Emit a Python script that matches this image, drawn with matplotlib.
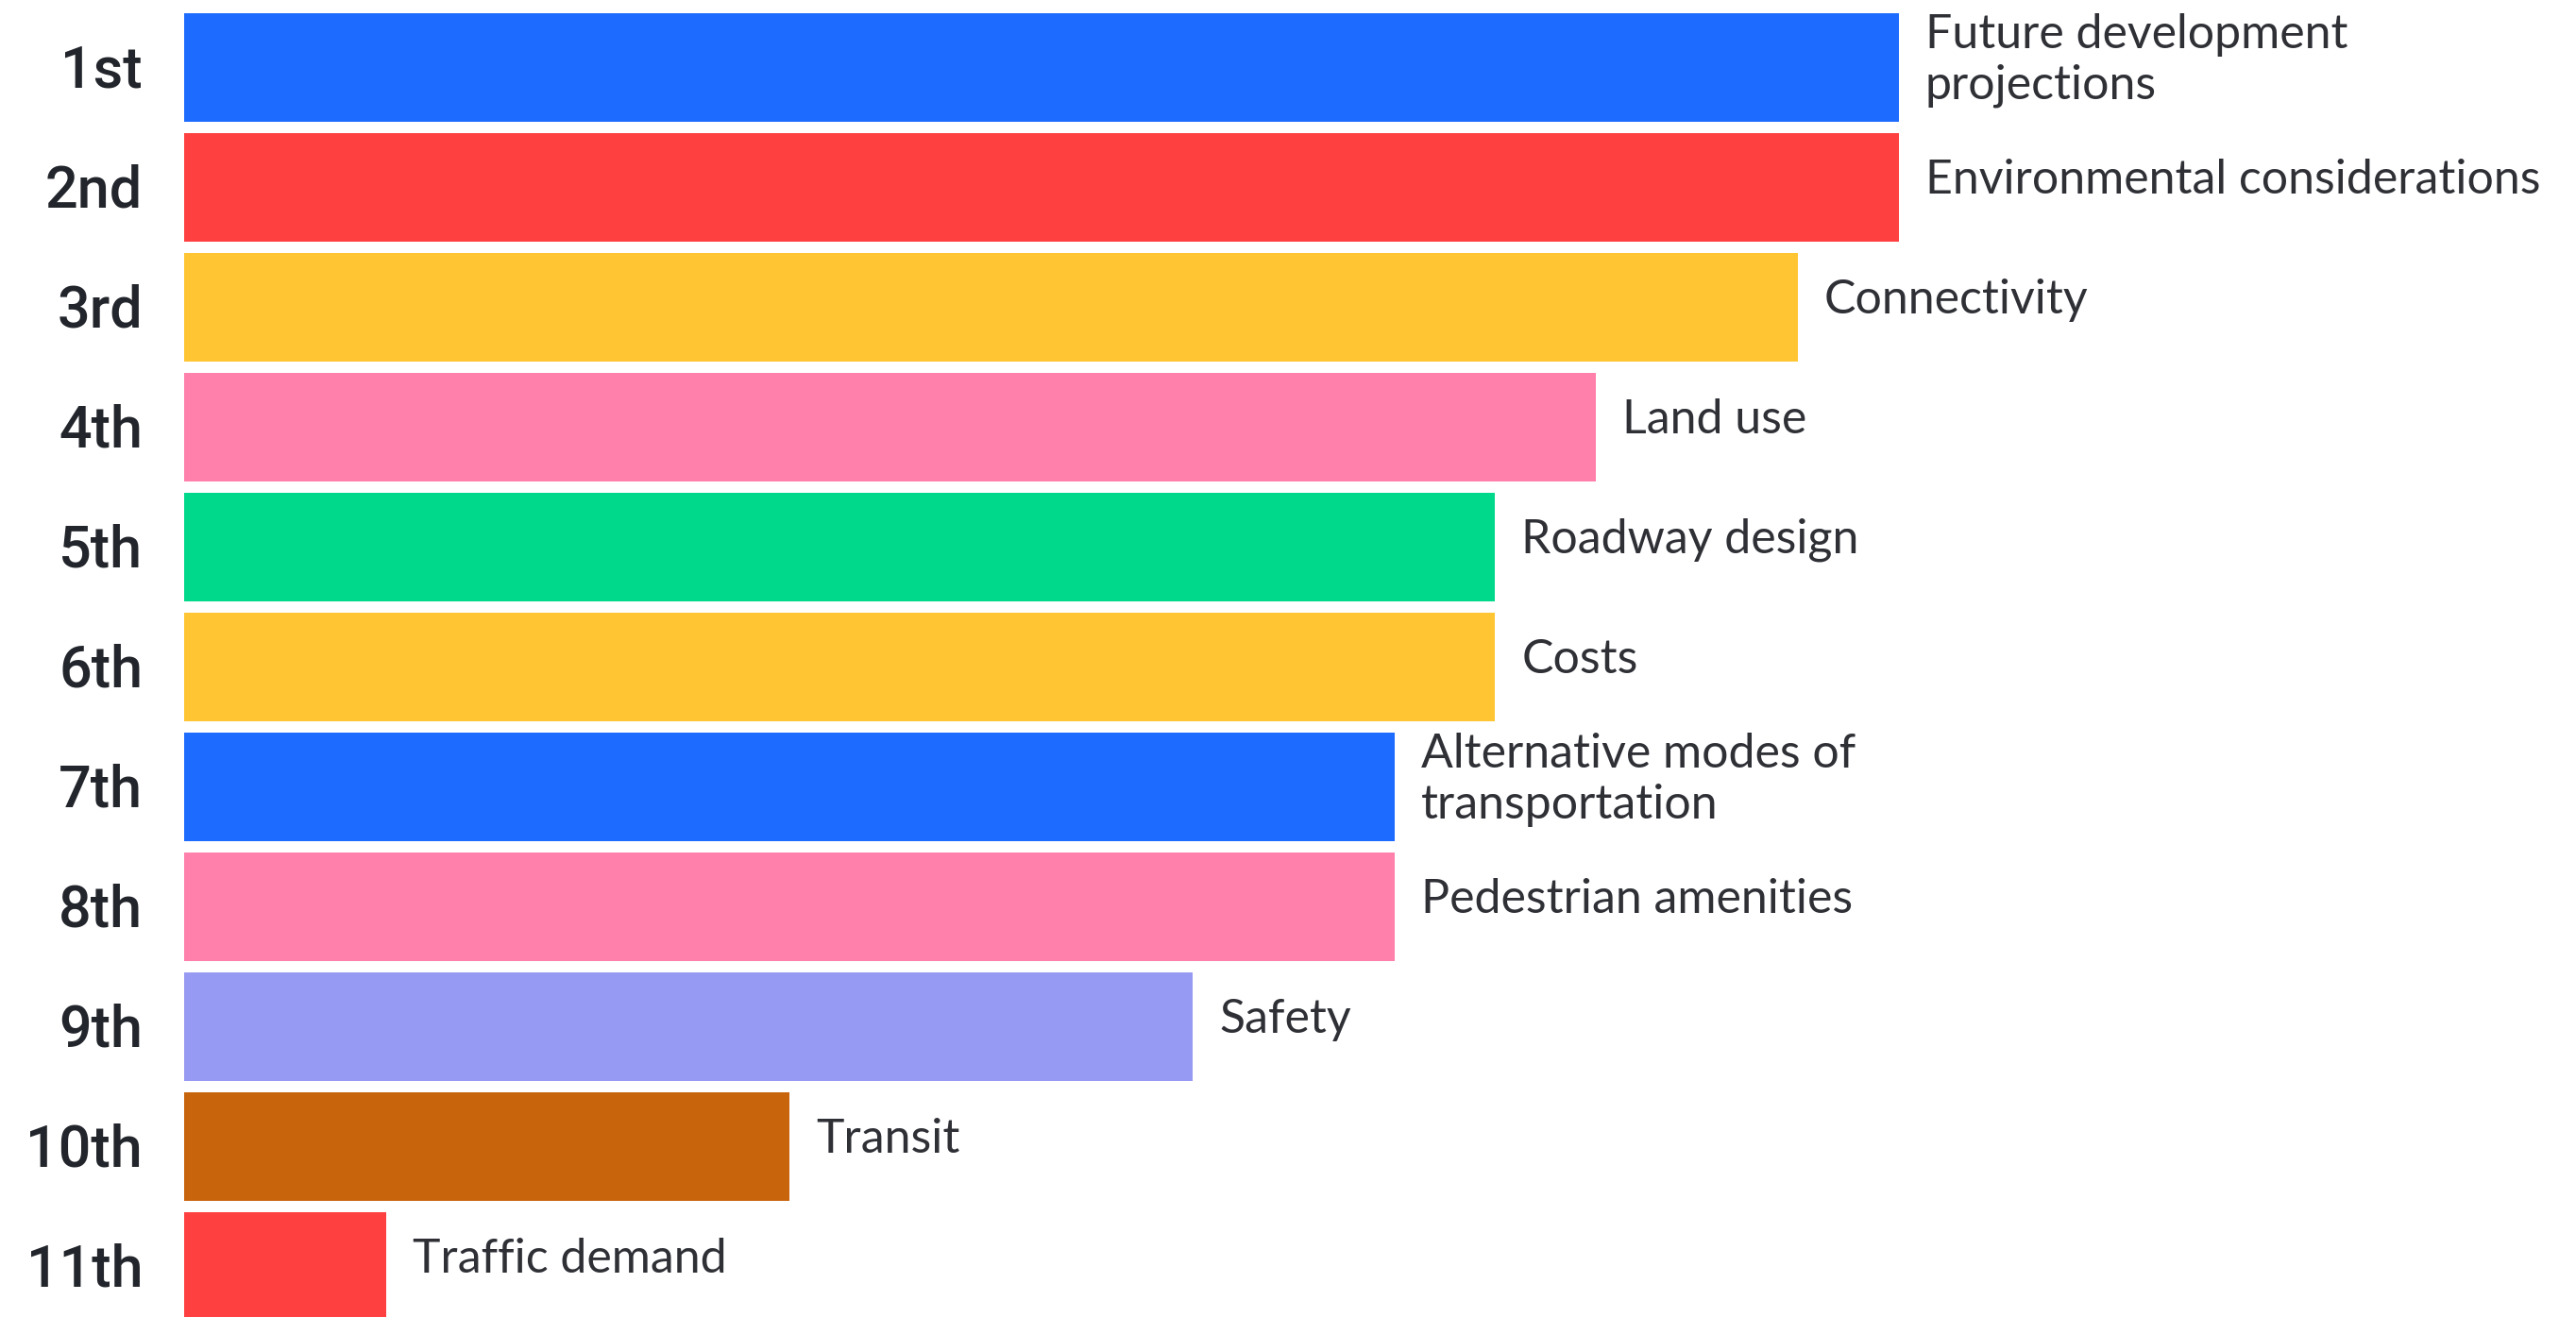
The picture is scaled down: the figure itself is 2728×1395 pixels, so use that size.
import matplotlib

matplotlib.use("Agg")
import matplotlib.pyplot as plt

RANKS = ["1st", "2nd", "3rd", "4th", "5th", "6th", "7th", "8th", "9th", "10th", "11th"]
FACTORS = [
    "Future development\nprojections",
    "Environmental considerations",
    "Connectivity",
    "Land use",
    "Roadway design",
    "Costs",
    "Alternative modes of\ntransportation",
    "Pedestrian amenities",
    "Safety",
    "Transit",
    "Traffic demand",
]
SCORES = [17, 17, 16, 14, 13, 13, 12, 12, 10, 6, 2]
COLORS = [
    "#1e6bff", "#ff4040", "#ffc533", "#ff80aa", "#00d98c", "#ffc533",
    "#1e6bff", "#ff80aa", "#979af2", "#c8650c", "#ff4040",
]

W, H, DPI = 2728, 1395, 100
UNIT = 106.8      # px per score unit
X0 = 195          # px where bars start
PITCH = 127       # px between bar centres
TOP = 71.5        # px of first bar centre

fig = plt.figure(figsize=(W / DPI, H / DPI), dpi=DPI, facecolor="white")
ax = fig.add_axes([0, 0, 1, 1])
ax.set_xlim(-X0 / UNIT, (W - X0) / UNIT)
ax.set_ylim((H - TOP) / PITCH, -TOP / PITCH)
ax.axis("off")

y = list(range(len(SCORES)))
ax.barh(y, SCORES, height=0.9, color=COLORS, edgecolor="none")

for i, (r, lab, v) in enumerate(zip(RANKS, FACTORS, SCORES)):
    ax.text(-44 / UNIT, i + 0.03, r, ha="right", va="center", fontsize=44,
            family="Roboto", fontweight="medium", color="#22252b")
    ax.text(v + 28 / UNIT, i - 0.06, lab, ha="left", va="center", fontsize=36,
            family="Lato", color="#2e3036", linespacing=1.2)

fig.savefig("out.png", dpi=DPI, facecolor="white")
